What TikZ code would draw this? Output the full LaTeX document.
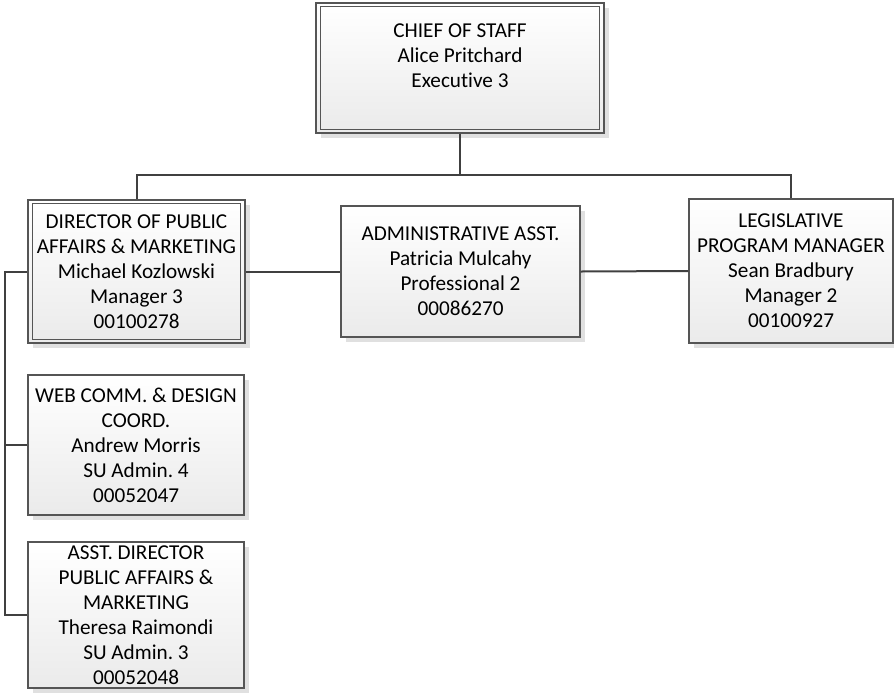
\documentclass[tikz,border=0pt]{standalone}
\usepackage{fontspec}
\setmainfont[Ligatures=NoCommon]{Carlito}
\frenchspacing
\usetikzlibrary{shadows}
\definecolor{edge}{HTML}{404040}
\definecolor{frame}{HTML}{555555}
\tikzset{
  card/.style={draw=frame, line width=0.8pt, top color=white, bottom color=black!8,
    drop shadow={shadow xshift=3.75pt, shadow yshift=-3.75pt, fill=black!12, opacity=1},
    align=center, inner sep=0pt, text=black,
    font=\fontsize{15.9}{18.75}\selectfont},
  inset/.style={draw=frame, line width=0.8pt},
  wire/.style={draw=edge, line width=1.5pt},
  caption/.style={align=center, inner sep=0pt, text=black,
    font=\fontsize{15.9}{18.75}\selectfont},
}
\begin{document}
\begin{tikzpicture}[x=0.75pt, y=-0.75pt]
\useasboundingbox (0,0) rectangle (894,694);

% boxes (positions in px, y downward)
\node[card, minimum width=216pt, minimum height=97.5pt] (chief) at (460,68) {};
\node[caption] (chieftext) at (460,56) {CHIEF OF STAFF\\Alice Pritchard\\Executive 3};
\draw[inset] ([shift={(5,4)}]chief.north west) rectangle ([shift={(-5,-4)}]chief.south east);

\node[card, minimum width=162.75pt, minimum height=107.25pt] (director) at (136.5,271.5)
  {DIRECTOR OF PUBLIC\\AFFAIRS \& MARKETING\\Michael Kozlowski\\Manager 3\\00100278};
\draw[inset] ([shift={(5,4)}]director.north west) rectangle ([shift={(-5,-4)}]director.south east);

\node[card, minimum width=179.25pt, minimum height=98.25pt] (admin) at (460.5,271.5)
  {ADMINISTRATIVE ASST.\\Patricia Mulcahy\\Professional 2\\00086270};

\node[card, minimum width=153pt, minimum height=108pt] (legis) at (791,271)
  {LEGISLATIVE\\PROGRAM MANAGER\\Sean Bradbury\\Manager 2\\00100927};

\node[card, minimum width=162pt, minimum height=105pt] (web) at (136,445)
  {WEB COMM. \& DESIGN\\COORD.\\Andrew Morris\\SU Admin. 4\\00052047};

\node[card, minimum width=162pt, minimum height=109.5pt] (asst) at (136,615)
  {ASST. DIRECTOR\\PUBLIC AFFAIRS \&\\MARKETING\\Theresa Raimondi\\SU Admin. 3\\00052048};

% connectors
\coordinate (bus) at (460,175);
\draw[wire] (chief.south) -- (bus);
\draw[wire] (director.north) |- (bus) -| (legis.north);
\draw[wire] (director.east) -- (admin.west);
\draw[wire] (admin.east) -- (legis.west);
\coordinate (rail) at (5,271.5);
\draw[wire] (director.west) -- (rail) |- (asst.west);
\draw[wire] (rail |- web.west) -- (web.west);
\end{tikzpicture}
\end{document}
